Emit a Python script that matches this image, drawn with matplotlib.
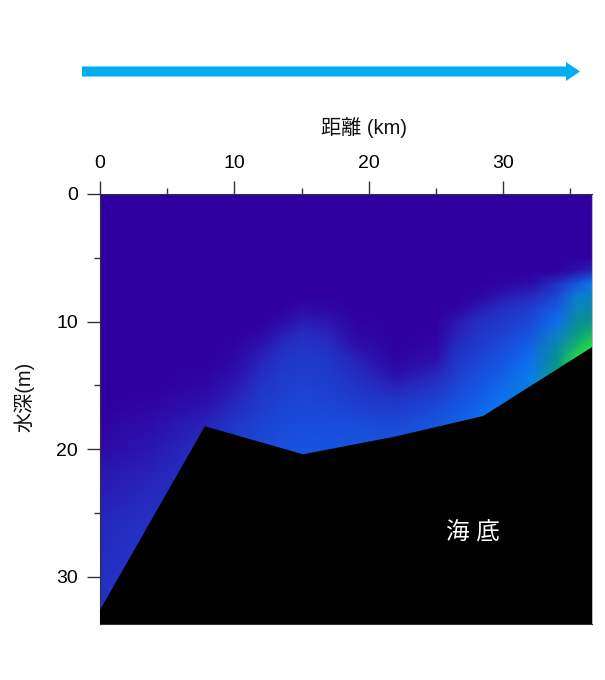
#!/usr/bin/env python3
# section plot: distance vs water depth
import numpy as np
import matplotlib
matplotlib.use('Agg')
import matplotlib.pyplot as plt
from matplotlib.colors import LinearSegmentedColormap
from matplotlib.patches import FancyArrow, Polygon

plt.rcParams['font.family'] = ['Liberation Sans', 'Noto Sans CJK JP', 'DejaVu Sans']

# grid of the section
dist = [0, 4, 8, 10, 12, 13.5, 15, 17, 19, 22, 25, 26.5, 28, 30, 32, 34, 35.5, 36.6]
depth = [0, 5, 6, 7, 8, 9, 10, 11, 12, 13, 14, 15, 16, 17, 18, 20, 22, 26, 34]

# relative colour value, one row per depth
row_00 = [0, 0, 0, 0, 0, 0, 0, 0, 0, 0, 0, 0, 0, 0, 0, 0, 0, 0]
row_05 = [0, 0, 0, 0, 0, 0, 0, 0, 0, 0, 0, 0, 0, 0, 0, 0, 0, 0]
row_06 = [0, 0, 0, 0, 0, 0, 0, 0, 0, 0, 0, 0, 0, 0, 0, 0, .05, .1]
row_07 = [0, 0, 0, 0, 0, 0, 0, 0, 0, 0, 0, 0, 0, .01, .03, .14, .32, .5]
row_08 = [0, 0, 0, 0, 0, 0, 0, 0, 0, 0, 0, 0, .01, .07, .12, .25, .55, .6]
row_09 = [0, 0, 0, 0, 0, 0, .03, .02, 0, 0, 0, .01, .07, .14, .2, .36, .62, .65]
row_10 = [0, 0, 0, 0, 0, .03, .08, .06, .01, 0, 0, .06, .13, .18, .25, .46, .68, .72]
row_11 = [0, 0, 0, 0, .02, .08, .13, .1, .02, 0, .01, .09, .16, .22, .32, .58, .74, .84]
row_12 = [0, 0, 0, .01, .06, .13, .16, .14, .05, 0, .02, .13, .19, .27, .4, .65, .85, 1]
row_13 = [0, 0, 0, .02, .1, .16, .18, .17, .1, .01, .05, .17, .23, .32, .46, .7, 1, 1]
row_14 = [0, 0, .01, .04, .13, .18, .2, .19, .13, .04, .1, .2, .27, .38, .5, .74, 1, 1]
row_15 = [0, 0, .02, .07, .16, .2, .22, .21, .16, .09, .15, .24, .31, .43, .54, .8, 1, 1]
row_16 = [0, .01, .04, .1, .18, .22, .24, .23, .19, .15, .21, .29, .36, .47, .56, .8, 1, 1]
row_17 = [0, .02, .07, .13, .2, .24, .26, .25, .23, .2, .27, .34, .41, .5, .56, .8, 1, 1]
row_18 = [.01, .04, .1, .17, .23, .26, .28, .28, .27, .25, .33, .38, .45, .5, .56, .8, 1, 1]
row_20 = [.03, .07, .14, .22, .27, .3, .32, .32, .33, .34, .38, .42, .45, .5, .56, .8, 1, 1]
row_22 = [.06, .1, .16, .22, .27, .3, .32, .32, .33, .34, .38, .42, .45, .5, .56, .8, 1, 1]
row_26 = [.11, .15, .18, .22, .27, .3, .32, .32, .33, .34, .38, .42, .45, .5, .56, .8, 1, 1]
row_34 = [.16, .2, .2, .22, .27, .3, .32, .32, .33, .34, .38, .42, .45, .5, .56, .8, 1, 1]
values = np.array([row_00, row_05, row_06, row_07, row_08, row_09, row_10,
                   row_11, row_12, row_13, row_14, row_15, row_16, row_17,
                   row_18, row_20, row_22, row_26, row_34])

# sea bottom outline
bed_x = [0, 7.8, 15.1, 22, 28.5, 36.6, 36.6, 0]
bed_y = [32.6, 18.2, 20.4, 19, 17.4, 12, 33.7, 33.7]

cm = LinearSegmentedColormap.from_list('sec', [(0, '#2f009f'), (0.06, '#2c16b0'),
                                               (0.15, '#2234c6'), (0.3, '#1850dc'),
                                               (0.5, '#0a78f0'), (0.7, '#0a8f90'),
                                               (1, '#28e040')])

W, H = 605, 680
fig = plt.figure(figsize=(W / 100, H / 100), dpi=100)

# background layer for the arrow and the labels, in pixels
bg = fig.add_axes([0, 0, 1, 1])
bg.set_xlim(0, W)
bg.set_ylim(H, 0)
bg.axis('off')
bg.add_patch(FancyArrow(82, 71.5, 498, 0, width=10, head_width=19, head_length=14,
                        length_includes_head=True, color='#00aeef', lw=0))
bg.text(364, 128, '距離 (km)', fontsize=14.5, ha='center', va='center', color='#111111')
bg.text(24, 397, '水深(m)', fontsize=14.5, ha='center', va='center', rotation=90, color='#111111')

ax = fig.add_axes([100 / W, 1 - 624 / H, 492 / W, 430 / H])
ax.pcolormesh(dist, depth, values, cmap=cm, vmin=0, vmax=1, shading='gouraud')
ax.add_patch(Polygon(np.column_stack([bed_x, bed_y]), color='black', lw=0, zorder=3))
ax.set_xlim(0, 36.6)
ax.set_ylim(33.7, 0)

ax.xaxis.tick_top()
ax.set_xticks([0, 10, 20, 30])
ax.set_xticks([5, 15, 25, 35], minor=True)
ax.set_yticks([0, 10, 20, 30])
ax.set_yticks([5, 15, 25], minor=True)
ax.tick_params(which='major', length=9.5, width=1, color='#333333', labelsize=14, pad=6.5)
ax.tick_params(which='minor', length=4, width=1, color='#333333')
for s in ax.spines.values():
    s.set_color('#333333')
ax.spines['right'].set_color('#b8b8c8')

ax.text(473, 533, '海 底', transform=bg.transData, fontsize=17, color='white',
        ha='center', va='center', zorder=4)

fig.savefig('out.png', dpi=100)
